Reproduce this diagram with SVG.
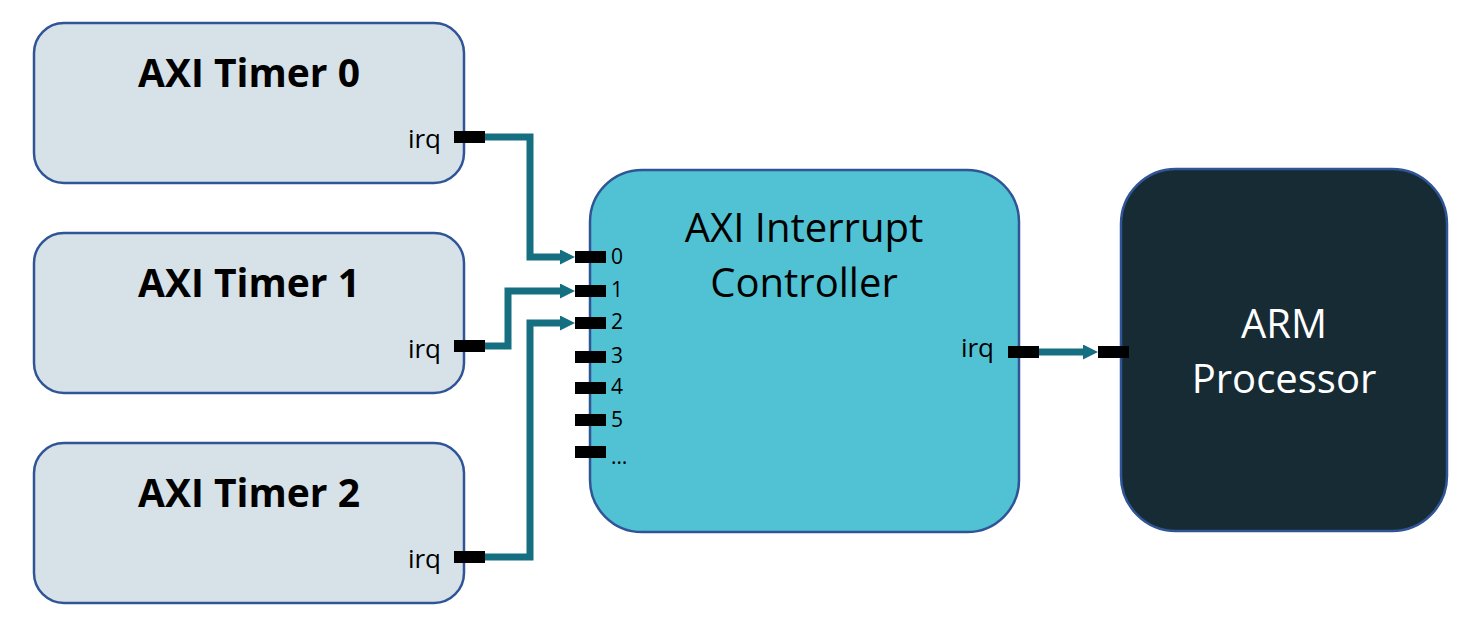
<svg xmlns="http://www.w3.org/2000/svg" width="1460" height="618" viewBox="0 0 1460 618">
<style>
.timer{fill:#D7E2E8;stroke:#2F5597;stroke-width:2.5}
.ctrl{fill:#51C2D3;stroke:#2F5597;stroke-width:2.5}
.arm{fill:#172B34;stroke:#2F5597;stroke-width:2.5}
.port{fill:#000}
.t{font-family:"Open Sans","Noto Sans",sans-serif;fill:#000}
.title{font-size:39px;font-weight:bold;text-anchor:middle}
.big{font-size:40px;text-anchor:middle}
.irq{font-size:26px}
.num{font-size:21px}
.wire{fill:none;stroke:#156F80;stroke-width:7;stroke-linejoin:miter}
</style>
<defs>
<marker id="ah" markerUnits="userSpaceOnUse" markerWidth="16" markerHeight="16" refX="3" refY="7.5" orient="auto">
<path d="M0,0 L15,7.5 L0,15 z" fill="#156F80"/>
</marker>
</defs>
<g id="connectors">
<path class="wire" d="M485,137 H530 V257 H563" marker-end="url(#ah)"/>
<path class="wire" d="M484,346 H508 V291 H563" marker-end="url(#ah)"/>
<path class="wire" d="M485,557 H530 V323 H563" marker-end="url(#ah)"/>
<path class="wire" d="M1039,352 H1086" marker-end="url(#ah)"/>
</g>
<g id="timer0">
<rect class="timer" x="34" y="23" width="430" height="160" rx="30"/>
<text class="t title" x="249" y="87">AXI Timer 0</text>
<text class="t irq" x="441" y="148" text-anchor="end">irq</text>
<rect class="port" x="454" y="131" width="31" height="12"/>
</g>
<g id="timer1">
<rect class="timer" x="34" y="233" width="430" height="160" rx="30"/>
<text class="t title" x="249" y="297">AXI Timer 1</text>
<text class="t irq" x="441" y="358" text-anchor="end">irq</text>
<rect class="port" x="454" y="340" width="31" height="12"/>
</g>
<g id="timer2">
<rect class="timer" x="34" y="443" width="430" height="160" rx="30"/>
<text class="t title" x="249" y="507">AXI Timer 2</text>
<text class="t irq" x="441" y="568" text-anchor="end">irq</text>
<rect class="port" x="454" y="551" width="31" height="12"/>
</g>
<g id="controller">
<rect class="ctrl" x="590" y="170" width="429" height="362" rx="52"/>
<text class="t big" x="804" y="242">AXI Interrupt</text>
<text class="t big" x="804" y="297">Controller</text>
<rect class="port" x="575" y="251" width="31" height="12"/>
<rect class="port" x="575" y="285" width="31" height="12"/>
<rect class="port" x="575" y="317" width="31" height="12"/>
<rect class="port" x="575" y="351" width="31" height="12"/>
<rect class="port" x="575" y="382" width="31" height="12"/>
<rect class="port" x="575" y="414" width="31" height="12"/>
<rect class="port" x="575" y="446" width="31" height="12"/>
<text class="t num" x="611" y="264">0</text>
<text class="t num" x="611" y="297">1</text>
<text class="t num" x="611" y="329">2</text>
<text class="t num" x="611" y="363">3</text>
<text class="t num" x="611" y="394">4</text>
<text class="t num" x="611" y="427">5</text>
<text class="t num" x="611" y="464">…</text>
<text class="t irq" x="994" y="357" text-anchor="end">irq</text>
<rect class="port" x="1008" y="346" width="31" height="12"/>
</g>
<g id="arm">
<rect class="arm" x="1121" y="169" width="326" height="362" rx="55"/>
<text class="t big" x="1284" y="338" style="fill:#fff">ARM</text>
<text class="t big" x="1284" y="393" style="fill:#fff">Processor</text>
<rect class="port" x="1098" y="346" width="31" height="12"/>
</g>
</svg>
